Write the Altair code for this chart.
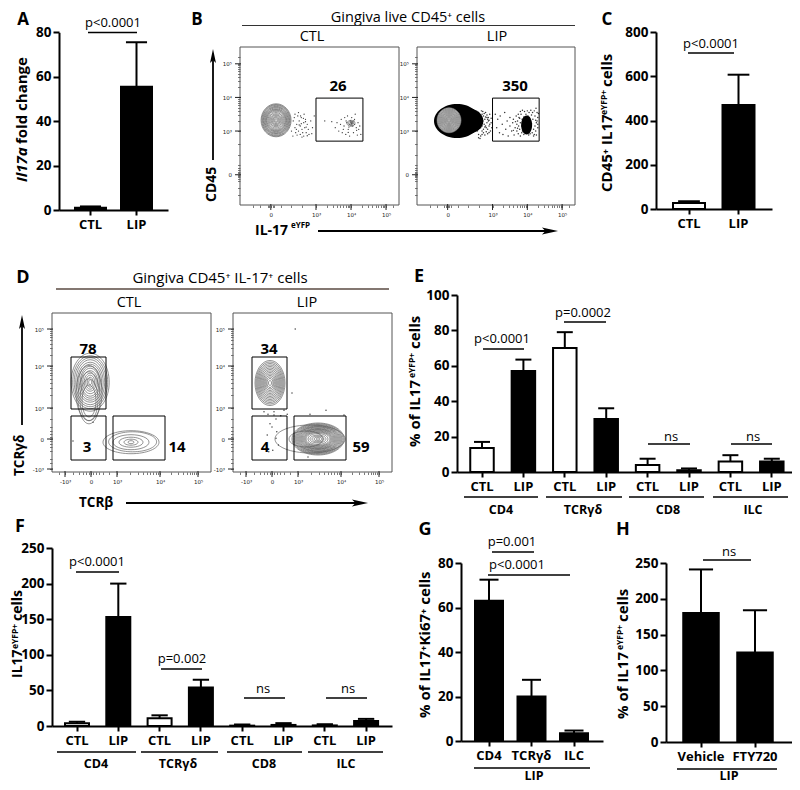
import math
import altair as alt

FONT = "Open Sans"
W, H = 784, 774

# ---------- bar panel values ----------
a_cats = ["CTL", "LIP"]; a_vals = [1, 55.5]; a_ups = [1.6, 75.5]
c_cats = ["CTL", "LIP"]; c_vals = [27, 470]; c_ups = [35, 607]
groups = ["CD4", "TCRγδ", "CD8", "ILC"]
pair_cats = [g + " " + k for g in groups for k in ("CTL", "LIP")]
e_vals = [13.5, 57, 70, 30, 4, 1, 6, 6]
e_ups = [17, 63.5, 79, 36, 7.5, 2, 9.5, 7.5]
f_vals = [4, 153, 11, 54, 0.5, 1.5, 0.8, 7]
f_ups = [6, 200, 15, 65, 2, 4, 2.5, 10]
g_cats = ["CD4", "TCRγδ", "ILC"]; g_vals = [63, 20, 3.5]; g_ups = [72.5, 27.5, 4.7]
h_cats = ["Vehicle", "FTY720"]; h_vals = [180, 125]; h_ups = [241, 184]

# ---------- flow cytometry events (display units) ----------
b1_tail_x = [2.35,2.4,2.42,2.45,2.48,2.5,2.52,2.55,2.55,2.58,2.6,2.62,2.65,2.65,2.68,2.7,2.72,2.75,2.78,2.8,2.85,2.9,2.4,2.46,2.5,2.56,2.6,2.66,2.7,2.75,2.3,2.34,2.38,2.44,2.52,2.58,2.64,2.72,2.95,2.88]
b1_tail_y = [3.3,3.1,2.95,3.2,3.45,3.0,3.3,2.9,3.15,3.4,3.05,2.95,3.25,2.85,3.1,3.35,2.95,3.2,3.05,2.9,3.3,3.1,3.5,2.88,3.55,3.45,2.82,3.5,3.28,2.86,3.0,2.85,3.4,3.05,3.18,3.22,3.38,3.12,3.45,2.92]
b1_gate_x = [3.25,3.45,3.55,3.6,3.65,3.7,3.72,3.75,3.8,3.82,3.85,3.88,3.9,3.92,3.95,3.96,3.98,4.0,4.0,4.02,4.03,4.05,4.05,4.07,4.08,4.1,4.12,4.15,4.18,4.2,4.22,4.25,4.28,3.78,3.86,3.94,4.02,4.1,4.16,3.92]
b1_gate_y = [3.3,3.28,3.1,3.25,3.0,3.2,3.35,2.95,3.15,3.4,2.9,3.25,3.45,3.05,3.2,2.85,3.3,3.25,3.18,3.22,3.28,3.24,3.15,2.95,3.3,3.2,3.5,3.1,2.88,3.25,3.05,3.15,2.9,3.05,3.3,3.12,3.4,3.35,3.02,2.96]
b2_tail_x = [2.6,2.62,2.65,2.68,2.7,2.72,2.74,2.76,2.78,2.8,2.82,2.84,2.86,2.88,2.9,2.92,2.94,2.96,2.98,2.66,2.7,2.74,2.78,2.82,2.86,2.9,2.6,2.64,2.68,2.72,2.76,2.8,2.84,2.88,2.92,2.7,2.62,2.66,2.74,2.8,2.86,2.58,2.56,2.6,2.64,2.7,2.78,2.84,2.9,2.96]
b2_tail_y = [3.55,3.48,3.42,3.38,3.5,3.3,3.45,3.2,3.35,3.42,3.1,3.25,3.05,3.3,3.15,3.2,3.0,3.25,3.1,2.85,2.9,2.95,2.88,2.98,2.92,2.96,2.8,2.78,3.6,3.58,3.52,3.55,3.48,3.4,3.5,3.15,3.25,3.1,3.05,3.15,3.35,3.4,3.0,2.9,3.2,3.0,3.12,3.4,3.32,3.38]
b2_gate_x = [3.08,3.12,3.15,3.2,3.22,3.28,3.3,3.35,3.38,3.42,3.45,3.5,3.5,3.55,3.58,3.6,3.62,3.65,3.68,3.7,3.7,3.72,3.74,3.75,3.76,3.78,3.8,3.8,3.82,3.84,3.85,3.86,3.88,3.9,3.9,3.92,3.94,3.95,3.96,3.98,4.0,4.02,4.04,4.05,4.06,4.08,4.1,4.12,4.14,4.15,4.16,4.18,4.2,4.22,4.24,4.25,4.26,4.28,4.3,4.3,3.6,3.66,3.72,3.78,3.84,3.9,4.22,4.26,4.18,4.28,3.74,3.8,3.86,4.2,4.12,4.32,4.3,4.24]
b2_gate_y = [3.5,3.1,3.35,2.95,3.45,3.2,2.9,3.55,3.05,3.3,2.85,3.4,3.15,3.0,3.25,3.35,2.88,3.1,3.45,3.2,3.0,3.3,2.92,3.15,3.4,3.05,3.25,2.85,3.5,3.15,3.35,3.0,3.22,3.42,2.9,3.58,3.1,3.3,3.5,2.95,3.6,3.45,2.88,3.55,3.4,2.92,3.62,3.48,2.95,3.55,3.35,2.85,3.6,3.45,3.0,3.68,3.25,3.55,3.4,3.1,3.02,3.28,3.08,3.38,2.95,3.2,3.15,2.88,3.05,3.3,3.5,3.58,3.62,2.9,3.22,3.52,3.2,3.32]
d1_dots_x = [0.05, -0.45]
d1_dots_y = [0.42, -0.05]
d2_dots_x = [0.58, -0.2, -0.1, 0.05, 0.1, -0.05, 0.0, 0.12, -0.12, 0.05, 0.3, 0.38, 0.22, 0.1, 0.02, 0.5, 0.95, 1.35, 0.9, 1.8, -0.08, 0.16]
d2_dots_y = [2.75, 0.68, 0.62, 0.6, 0.5, 0.38, 0.3, 0.18, 0.1, 0.68, 0.72, 0.62, 0.58, 0.02, -0.28, 1.15, 0.62, 0.72, -0.45, 0.6, -0.32, -0.15]

# rings: centre x, centre y (display units), width, height (px)
b1_rings = [(1.86, 3.32, w, h) for w, h in [(30, 33), (28.5, 31.5), (27, 30), (25.5, 28), (24, 26.5), (22.5, 25), (21, 23), (19.5, 21.5), (18, 20), (16, 18), (14, 15.5), (12, 13), (10, 11), (8, 9), (6, 7), (4, 5), (2, 3)]]
b1_core = [(4.0, 3.23, 8, 6), (4.0, 3.23, 5, 4), (4.0, 3.23, 2, 2)]
b2_blob = [(1.98, 3.3, 46, 34), (2.25, 3.3, 34, 26), (3.98, 3.18, 11, 19), (3.95, 3.12, 7, 10)]
b2_disc = [(1.75, 3.32, 24, 25)]
b2_rings = [(1.75, 3.32, w, h) for w, h in [(24, 25), (22, 23), (20, 21), (18, 19), (16, 17), (14, 15), (12, 13), (10, 11), (8, 9), (6, 7), (4, 5), (2, 3)]]
d1_top = [(-0.02, 1.42, w, h) for w, h in [(38, 58), (35, 53), (32, 49), (29, 45), (26, 40), (23, 36), (20, 32), (18, 28), (15, 23), (12, 18), (9, 14), (6, 10), (3, 5)]] + [(-0.05, 1.15, 26, 55), (-0.05, 1.03, 22, 52), (-0.05, 0.98, 18, 42), (-0.05, 0.95, 14, 32)]
d1_bot = [(1.0, -0.08, 56, 23), (1.04, -0.07, 48, 20), (1.0, -0.08, 36, 15), (1.0, -0.08, 24, 10), (1.0, -0.08, 14, 6), (1.0, -0.08, 6, 3)]
d2_top = [(-0.05, 1.4, w, h) for w, h in [(30, 45), (28, 42), (26, 39), (24, 36), (22, 33), (20, 30), (18, 27), (16, 24), (14, 21), (12, 18), (10, 15), (8, 12), (6, 9), (3, 5)]]
d2_bot = [(0.95, 0.0, 70, 28), (0.85, 0.0, 34, 16), (1.15, 0.0, 52, 32), (1.15, 0.0, 50, 30.5), (1.15, 0.0, 48, 29), (1.15, 0.0, 46, 27.5), (1.15, 0.0, 44, 26), (1.15, 0.0, 42, 25), (1.15, 0.0, 40, 24), (1.15, 0.0, 38, 22.5), (1.15, 0.0, 36, 21), (1.15, 0.0, 34, 20), (1.15, 0.0, 32, 19), (1.15, 0.0, 30, 17.5), (1.15, 0.0, 28, 16), (1.15, 0.0, 26, 14.5), (1.15, 0.0, 24, 13), (1.15, 0.0, 20, 11), (1.15, 0.0, 16, 8), (1.15, 0.0, 12, 6), (1.15, 0.0, 8, 4), (1.15, 0.0, 4, 2)]
# gates: x, x2, y, y2 (display units)
b_gates = [(3.0, 4.34, 2.7, 3.98)]
d_gates = [(-0.5, 0.375, 0.75, 2.05), (-0.5, 0.375, -0.525, 0.575), (0.55, 1.85, -0.525, 0.575)]


def P(v):
    return v - 8


layers = []


def T(x, y, s, size=14, bold=False, italic=False, align="center", angle=0, color="black"):
    kw = dict(text=s, fontSize=size, font=FONT, align=align, baseline="middle", color=color,
              fontWeight="bold" if bold else "normal", fontStyle="italic" if italic else "normal")
    if angle:
        kw["angle"] = angle
    layers.append(alt.Chart(alt.Data(values=[{"a": 0}])).mark_text(**kw).encode(
        x=alt.value(P(x)), y=alt.value(P(y))))


def L(x0, y0, x1, y1, w=1.6, color="black"):
    layers.append(alt.Chart(alt.Data(values=[{"a": 0}])).mark_rule(strokeWidth=w, color=color).encode(
        x=alt.value(P(x0)), x2=alt.value(P(x1)), y=alt.value(P(y0)), y2=alt.value(P(y1))))


ARROW_R = "M-1,-0.42L1,0L-1,0.42L-0.55,0Z"
ARROW_U = "M-0.42,1L0,-1L0.42,1L0,0.55Z"


def arrow(x0, y0, x1, y1, shape, size=220):
    L(x0, y0, x1, y1, 1.8)
    layers.append(alt.Chart(alt.Data(values=[{"a": 0}])).mark_point(
        shape=shape, filled=True, color="black", size=size, opacity=1).encode(
        x=alt.value(P(x1)), y=alt.value(P(y1))))


def bar_panel(cats, vals, ups, kinds, yticks, ymax, ax0, ax1, y0, y1, c0, step, bw, label_expr=None,
              tick_h=5, lab_pad=3, cap=None):
    rows = [dict(c=c, v=v, u=u, k=k) for c, v, u, k in zip(cats, vals, ups, kinds)]
    n = len(cats)
    pi = 1 - bw / step
    outer = (ax1 - ax0) - (n * step - (step - bw))
    po = outer / (2 * step)
    al = (c0 - bw / 2 - ax0) / outer
    xs = alt.Scale(type="band", domain=cats, range=[P(ax0), P(ax1)], paddingInner=pi, paddingOuter=po, align=al)
    ys = alt.Scale(domain=[0, ymax], range=[P(y0), P(y1)], nice=False, zero=True)
    xa = dict(orient="bottom", offset=P(y0) - H, title=None, domainWidth=2, domainColor="black", tickColor="black",
              tickWidth=2, tickSize=tick_h, labelFont=FONT, labelFontWeight="bold", labelFontSize=13, labelColor="black",
              labelAngle=0, labelPadding=lab_pad, grid=False, labelOverlap=False, labelBound=False)
    if label_expr:
        xa["labelExpr"] = label_expr
    ya = dict(orient="left", offset=-P(ax0), title=None, values=yticks, domainWidth=2, domainColor="black",
              tickColor="black", tickWidth=2, tickSize=6, labelFont=FONT, labelFontWeight="bold", labelFontSize=13.5,
              labelColor="black", labelPadding=2, grid=False, labelOverlap=False, labelBound=False, labelFlush=False)
    base = alt.Chart(alt.Data(values=rows))
    X = alt.X("c:N", scale=xs, sort=cats, axis=alt.Axis(**xa))
    Y = alt.Y("v:Q", scale=ys, axis=alt.Axis(**ya))
    rule = base.mark_rule(color="black", strokeWidth=2).encode(x=X, y=Y, y2="u:Q")
    tick = base.mark_tick(color="black", thickness=2, size=cap or bw * 0.68, opacity=1).encode(
        x=X, y=alt.Y("u:Q", scale=ys, axis=alt.Axis(**ya)))
    bars = base.mark_bar(stroke="black", strokeWidth=2).encode(
        x=X, y=Y, fill=alt.Fill("k:N", scale=alt.Scale(domain=["CTL", "LIP"], range=["white", "black"]), legend=None))
    layers.append(alt.layer(rule, tick, bars))


def ell(w, h):
    r = h / w
    k = 0.5523
    return (f"M-1,0C-1,{-k*r:.3f},{-k:.3f},{-r:.3f},0,{-r:.3f}C{k:.3f},{-r:.3f},1,{-k*r:.3f},1,0"
            f"C1,{k*r:.3f},{k:.3f},{r:.3f},0,{r:.3f}C{-k:.3f},{r:.3f},-1,{k*r:.3f},-1,0Z")


def flow_panel(px0, px1, py0, py1, xd, yd, xmaj, xlab, ymaj, ylab, xmin, ymin, rings, filled, dots_x, dots_y, gates,
               dot_size=1.6, ring_color="#5c5c5c", disc=None):
    xs = alt.Scale(domain=xd, range=[P(px0), P(px1)], nice=False, zero=False)
    ys = alt.Scale(domain=yd, range=[P(py1), P(py0)], nice=False, zero=False)

    def expr(vals, labs):
        e = "''"
        for v, l in zip(vals, labs):
            e = f"datum.value=={v}?'{l}':" + e
        return e
    common = dict(title=None, domain=False, tickColor="#222", tickWidth=0.6, tickSize=2.5, labelFont="DejaVu Sans",
                  labelFontSize=5.5, labelColor="#222", grid=False, labelOverlap=False, labelBound=False, labelFlush=False)
    xa = alt.Axis(orient="bottom", offset=P(py1) - H, values=xmaj + xmin, labelExpr=expr(xmaj, xlab), labelPadding=5, **common)
    ya = alt.Axis(orient="left", offset=-P(px0), values=ymaj + ymin, labelExpr=expr(ymaj, ylab), labelPadding=6, **common)
    X = alt.X("x:Q", scale=xs, axis=xa)
    Y = alt.Y("y:Q", scale=ys, axis=ya)
    parts = []
    frame = alt.Chart(alt.Data(values=[{"a": 0}])).mark_rect(fillOpacity=0, stroke="#555", strokeWidth=1).encode(
        x=alt.value(P(px0)), x2=alt.value(P(px1)), y=alt.value(P(py0)), y2=alt.value(P(py1)))
    parts.append(frame)
    parts.append(alt.Chart(alt.Data(values=[dict(x=v) for v in xmaj])).mark_rule(color="#222", strokeWidth=1).encode(
        x=X, y=alt.value(P(py1) - 1), y2=alt.value(P(py1) + 5)))
    parts.append(alt.Chart(alt.Data(values=[dict(y=v) for v in ymaj])).mark_rule(color="#222", strokeWidth=1).encode(
        y=Y, x=alt.value(P(px0) - 5), x2=alt.value(P(px0) + 1)))
    parts.append(alt.Chart(alt.Data(values=[dict(x=a, y=b) for a, b in zip(dots_x, dots_y)])).mark_point(
        shape="circle", filled=True, color="#111", size=dot_size, opacity=0.85).encode(x=X, y=Y))
    if filled:
        parts.append(alt.Chart(alt.Data(values=[dict(x=a, y=b, s=w * w, p=ell(w, h)) for a, b, w, h in filled])).mark_point(
            filled=True, color="black", opacity=1).encode(x=X, y=Y, size=alt.Size("s:Q", scale=None),
                                                          shape=alt.Shape("p:N", scale=None)))
    if disc:
        parts.append(alt.Chart(alt.Data(values=[dict(x=a, y=b, s=w * w, p=ell(w, h)) for a, b, w, h in disc])).mark_point(
            filled=True, color="#c8c8c8", opacity=1).encode(x=X, y=Y, size=alt.Size("s:Q", scale=None),
                                                            shape=alt.Shape("p:N", scale=None)))
    if rings:
        parts.append(alt.Chart(alt.Data(values=[dict(x=a, y=b, s=w * w, p=ell(w, h)) for a, b, w, h in rings])).mark_point(
            filled=False, color=ring_color, strokeWidth=0.7, opacity=0.95).encode(
            x=X, y=Y, size=alt.Size("s:Q", scale=None), shape=alt.Shape("p:N", scale=None)))
    parts.append(alt.Chart(alt.Data(values=[dict(x=a, x2=b, y=c, y2=d) for a, b, c, d in gates])).mark_rect(
        fillOpacity=0, stroke="black", strokeWidth=1).encode(x=X, x2="x2:Q", y=Y, y2="y2:Q"))
    layers.append(alt.layer(*parts))


# ---------- bar panels ----------
pair_kinds = ["CTL", "LIP"] * 4
pair_expr = "split(datum.label,' ')[1]"
bar_panel(a_cats, a_vals, a_ups, ["LIP", "LIP"], [0, 20, 40, 60, 80], 80, 59, 168, 210, 32.3, 90.5, 46, 31)
bar_panel(c_cats, c_vals, c_ups, ["CTL", "LIP"], [0, 200, 400, 600, 800], 800, 656, 772, 209, 32, 689, 49.5, 32)
bar_panel(pair_cats, e_vals, e_ups, pair_kinds, [0, 20, 40, 60, 80, 100], 100, 457, 797, 472, 295, 482, 41.4, 23.5, pair_expr)
bar_panel(pair_cats, f_vals, f_ups, pair_kinds, [0, 50, 100, 150, 200, 250], 250, 52, 392, 726, 548, 77, 41.3, 24, pair_expr)
bar_panel(g_cats, g_vals, g_ups, ["LIP"] * 3, [0, 20, 40, 60, 80], 80, 461, 603, 741, 563, 489, 42.5, 28)
bar_panel(h_cats, h_vals, h_ups, ["LIP"] * 2, [0, 50, 100, 150, 200, 250], 250, 666, 792, 742, 563, 701, 54, 35.5)

# ---------- flow panels ----------
def dec_minor(a, b):
    return [round(a + (b - a) * math.log10(m), 3) for m in range(2, 10)]


bx_maj = [1.71, 3, 4, 5]
bx_lab = ["0", "10³", "10⁴", "10⁵"]
by_maj = [1.7, 3, 4, 5]
by_lab = ["0", "10³", "10⁴", "10⁵"]
bx_min = dec_minor(3, 4) + dec_minor(4, 5) + [2.0, 2.3, 2.6, 1.62, 1.66, 1.76, 1.8, 1.4, 1.2, 5.2]
by_min = dec_minor(3, 4) + dec_minor(4, 5) + [2.0, 2.3, 2.6, 1.5, 1.56, 1.62, 1.66, 1.74, 1.78, 1.84, 1.9, 1.3, 1.1, 5.2]
bxd = [0.83, 5.37]
byd = [0.8, 5.5]
flow_panel(240, 399, 47, 205, bxd, byd, bx_maj, bx_lab, by_maj, by_lab, bx_min, by_min,
           b1_rings + b1_core, None, b1_tail_x + b1_gate_x, b1_tail_y + b1_gate_y, b_gates)
flow_panel(417, 575, 47, 205, bxd, byd, bx_maj, bx_lab, by_maj, by_lab, bx_min, by_min,
           b2_rings, b2_blob, b2_tail_x + b2_gate_x, b2_tail_y + b2_gate_y, b_gates, dot_size=2.2,
           ring_color="#777", disc=b2_disc)

dx_maj = [-0.65, 0, 0.65, 1.725, 2.675]
dx_lab = ["-10³", "0", "10³", "10⁴", "10⁵"]
dy_maj = [-0.75, 0, 0.775, 1.825, 2.75]
dy_lab = ["-10³", "0", "10³", "10⁴", "10⁵"]
dx_min = dec_minor(0.65, 1.725) + dec_minor(1.725, 2.675) + [-0.45, -0.3, -0.2, -0.12, -0.06, 0.06, 0.12, 0.2, 0.3, 0.45, -0.8]
dy_min = dec_minor(0.775, 1.825) + dec_minor(1.825, 2.75) + [-0.5, -0.3, -0.2, -0.12, -0.06, 0.06, 0.12, 0.2, 0.3, 0.5, -0.6]
dxd = [-0.975, 3.0]
dyd = [-0.825, 3.15]
flow_panel(52, 211, 313, 472, dxd, dyd, dx_maj, dx_lab, dy_maj, dy_lab, dx_min, dy_min,
           d1_top + d1_bot, None, d1_dots_x, d1_dots_y, d_gates, dot_size=2)
flow_panel(233, 392, 313, 472, dxd, dyd, dx_maj, dx_lab, dy_maj, dy_lab, dx_min, dy_min,
           d2_top + d2_bot, None, d2_dots_x, d2_dots_y, d_gates, dot_size=2)

# ---------- panel A annotations ----------
T(23, 20, "A", 17, True)
T(113, 23, "p<0.0001", 13)
L(88, 32.5, 137, 32.5)
T(22, 182, "Il17a", 15, True, True, "left", 270)
T(22, 144, "fold change", 15, True, False, "left", 270)

# ---------- panel B ----------
T(197, 20, "B", 17, True)
T(408, 18, "Gingiva live CD45⁺ cells", 14.5)
L(242, 25.5, 575, 25.5, 1, "#333")
T(312, 37, "CTL", 14.5)
T(497, 37, "LIP", 14.5)
T(338, 86, "26", 15, True)
T(515, 86, "350", 15, True)
T(212, 202, "CD45", 14, True, False, "left", 270)
arrow(213, 160, 213, 56, ARROW_U, 200)
T(255, 231, "IL-17", 14, True, False, "left")
T(291, 226, "eYFP", 8, True, False, "left")
arrow(318, 231, 550, 231, ARROW_R, 260)

# ---------- panel C ----------
T(607, 20, "C", 17, True)
T(711, 44, "p<0.0001", 13)
L(688, 53, 734, 53)
T(607, 192, "CD45⁺ IL17", 15, True, False, "left", 270)
T(604, 115, "eYFP+", 8.5, True, False, "left", 270)
T(607, 87, "cells", 15, True, False, "left", 270)

# ---------- panel D ----------
T(23, 278, "D", 18, True)
T(220, 278, "Gingiva CD45⁺ IL-17⁺ cells", 15)
L(56, 289, 389, 289, 1.4, "#5a4a42")
T(129, 303, "CTL", 14.5)
T(307, 303, "LIP", 14.5)
T(88, 349, "78", 15, True)
T(87, 447, "3", 15, True)
T(177, 447, "14", 15, True)
T(269, 349, "34", 15, True)
T(265, 447, "4", 15, True)
T(361, 447, "59", 15, True)
T(20, 476, "TCRγδ", 13.5, True, False, "left", 270)
arrow(22, 425, 22, 322, ARROW_U, 200)
T(79, 503, "TCRβ", 13.5, True, False, "left")
arrow(126, 503, 360, 503, ARROW_R, 260)

# ---------- panel E ----------
T(419, 277, "E", 18, True)
T(502, 339, "p<0.0001", 13)
L(483, 349, 524, 349)
T(583, 313, "p=0.0002", 13)
L(564, 322, 606, 322)
T(671, 437, "ns", 13)
L(648, 444, 690, 444)
T(753, 437, "ns", 13)
L(731, 444, 772, 444)
for x0, x1 in [(464, 538), (546, 622), (629, 704), (713, 788)]:
    L(x0, 497, x1, 497, 1.4)
for x, s in [(501, "CD4"), (583, "TCRγδ"), (668, "CD8"), (753, "ILC")]:
    T(x, 510, s, 12.5, True)
T(415, 447, "% of IL17", 15, True, False, "left", 270)
T(412, 378, "eYFP+", 8.5, True, False, "left", 270)
T(415, 349, "cells", 15, True, False, "left", 270)

# ---------- panel F ----------
T(20, 527, "F", 18, True)
T(97, 562, "p<0.0001", 13)
L(76, 572, 119, 572)
T(182, 659, "p=0.002", 13)
L(161, 669, 202, 669)
T(263, 689, "ns", 13)
L(244, 698, 285, 698)
T(348, 689, "ns", 13)
L(326, 698, 367, 698)
for x0, x1 in [(57, 136), (141, 218), (227, 302), (308, 383)]:
    L(x0, 752, x1, 752, 1.4)
for x, s in [(96, "CD4"), (178, "TCRγδ"), (264, "CD8"), (346, "ILC")]:
    T(x, 764, s, 12.5, True)
T(17.5, 678, "IL17", 14, True, False, "left", 270)
T(15, 649, "eYFP+", 8.5, True, False, "left", 270)
T(17.5, 621, "cells", 14, True, False, "left", 270)

# ---------- panel G ----------
T(425, 530, "G", 18, True)
T(512, 542, "p=0.001", 13)
L(492, 552, 534, 552)
T(517, 565, "p<0.0001", 13)
L(488, 575, 570, 575)
L(474, 768, 590, 768, 1.4)
T(534, 775.5, "LIP", 12.5, True)
T(425, 718, "% of IL17⁺Ki67⁺ cells", 15, True, False, "left", 270)

# ---------- panel H ----------
T(623, 530, "H", 18, True)
T(729, 552, "ns", 13)
L(703, 560, 751, 560)
L(677, 769, 777, 769, 1.4)
T(729, 775.5, "LIP", 12.5, True)
T(623, 719, "% of IL17", 15, True, False, "left", 270)
T(620, 650, "eYFP+", 8.5, True, False, "left", 270)
T(623, 622, "cells", 15, True, False, "left", 270)

chart = alt.layer(*layers).resolve_scale(x="independent", y="independent").properties(
    width=W, height=H, padding=0, autosize=alt.AutoSizeParams(type="none")
).configure_view(stroke=None)

chart.save("out.html", embed_options={"renderer": "svg", "actions": False})
